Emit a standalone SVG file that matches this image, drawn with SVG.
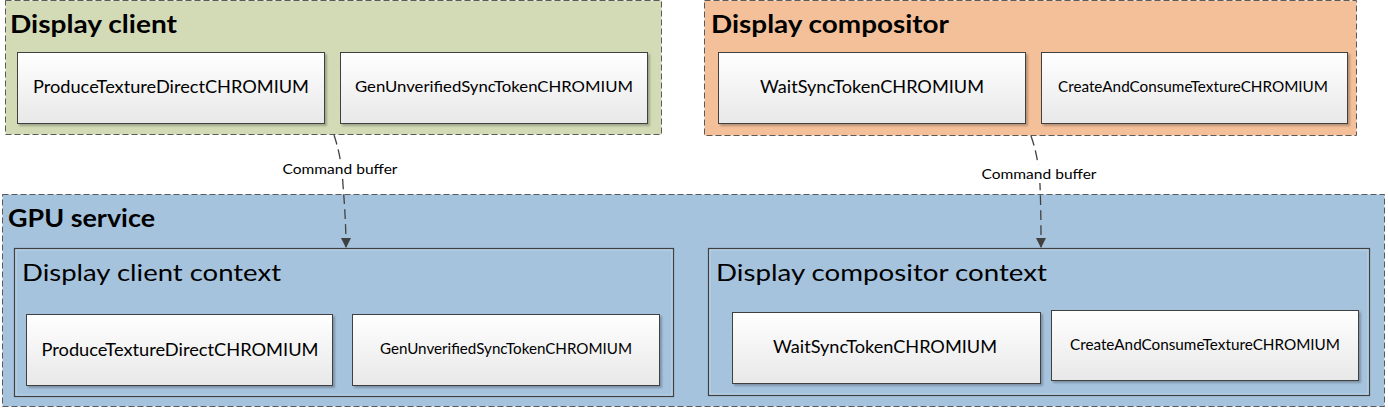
<svg xmlns="http://www.w3.org/2000/svg" width="1388" height="410" viewBox="0 0 1388 410">
<defs>
<linearGradient id="boxg" x1="0" y1="0" x2="0" y2="1">
<stop offset="0" stop-color="#ffffff"/>
<stop offset="1" stop-color="#e8e8e8"/>
</linearGradient>
<filter id="sh" x="-5%" y="-5%" width="112%" height="120%">
<feDropShadow dx="2" dy="2" stdDeviation="1" flood-color="#000" flood-opacity="0.25"/>
</filter>
<marker id="arr" viewBox="0 0 10 10" refX="9" refY="5" markerWidth="10" markerHeight="10" markerUnits="userSpaceOnUse" orient="auto">
<path d="M0,0 L10,5 L0,10 z" fill="#404040"/>
</marker>
</defs>
<style>
.grp{stroke:#5a5a5a;stroke-width:1;stroke-dasharray:6 3}
.ctx{fill:#a6c3dd;stroke:#404040;stroke-width:1.2}
.box{fill:url(#boxg);stroke:#404040;stroke-width:1;filter:url(#sh)}
.t{font-family:Lato,"Open Sans","DejaVu Sans",sans-serif;fill:#000}
.h{font-weight:bold;font-size:24px}
.c{font-size:24px}
.b{font-size:17px}
.s{font-size:15px}
.l{font-size:13px}
.con{fill:none;stroke:#404040;stroke-width:1.3;stroke-dasharray:10 5}
</style>
<rect width="1388" height="410" fill="#fff"/>

<g id="display-client">
<rect class="grp" x="5.5" y="0.5" width="656" height="134" fill="#d3dbb6"/>
<text class="t h" x="10" y="33" textLength="167" lengthAdjust="spacingAndGlyphs">Display client</text>
</g>
<g id="dc-produce">
<rect class="box" x="17.5" y="52.5" width="307" height="71"/>
<text class="t b" x="171" y="93" text-anchor="middle" textLength="276" lengthAdjust="spacingAndGlyphs">ProduceTextureDirectCHROMIUM</text>
</g>
<g id="dc-gen">
<rect class="box" x="340.5" y="52.5" width="307" height="71"/>
<text class="t s" x="494" y="92" text-anchor="middle" textLength="278" lengthAdjust="spacingAndGlyphs">GenUnverifiedSyncTokenCHROMIUM</text>
</g>

<g id="display-compositor">
<rect class="grp" x="704.5" y="0.5" width="652" height="135" fill="#f4c09a"/>
<text class="t h" x="711" y="33" textLength="238" lengthAdjust="spacingAndGlyphs">Display compositor</text>
</g>
<g id="dcomp-wait">
<rect class="box" x="718.5" y="52.5" width="307" height="71"/>
<text class="t b" x="872" y="93" text-anchor="middle" textLength="224" lengthAdjust="spacingAndGlyphs">WaitSyncTokenCHROMIUM</text>
</g>
<g id="dcomp-create">
<rect class="box" x="1041.5" y="52.5" width="306" height="71"/>
<text class="t s" x="1193" y="92" text-anchor="middle" textLength="270" lengthAdjust="spacingAndGlyphs">CreateAndConsumeTextureCHROMIUM</text>
</g>

<g id="gpu-service">
<rect class="grp" x="2.5" y="194.5" width="1382" height="212" fill="#a6c3dd"/>
<text class="t h" x="8" y="227" textLength="147" lengthAdjust="spacingAndGlyphs">GPU service</text>
</g>

<g id="client-context">
<rect class="ctx" x="14.5" y="248.5" width="659" height="148"/>
<rect x="16" y="250" width="656" height="145" fill="none" stroke="#bcd3e8" stroke-width="1"/>
<text class="t c" x="22" y="281" textLength="259" lengthAdjust="spacingAndGlyphs">Display client context</text>
</g>
<g id="cc-produce">
<rect class="box" x="26.5" y="314.5" width="306" height="71"/>
<text class="t b" x="180" y="356" text-anchor="middle" textLength="277" lengthAdjust="spacingAndGlyphs">ProduceTextureDirectCHROMIUM</text>
</g>
<g id="cc-gen">
<rect class="box" x="352.5" y="314.5" width="307" height="71"/>
<text class="t s" x="506" y="354" text-anchor="middle" textLength="252" lengthAdjust="spacingAndGlyphs">GenUnverifiedSyncTokenCHROMIUM</text>
</g>

<g id="compositor-context">
<rect class="ctx" x="708.5" y="248.5" width="661" height="147"/>
<rect x="710" y="250" width="658" height="144" fill="none" stroke="#bcd3e8" stroke-width="1"/>
<text class="t c" x="716" y="281" textLength="331" lengthAdjust="spacingAndGlyphs">Display compositor context</text>
</g>
<g id="cc-wait">
<rect class="box" x="732.5" y="312.5" width="308" height="71"/>
<text class="t b" x="885" y="353" text-anchor="middle" textLength="224" lengthAdjust="spacingAndGlyphs">WaitSyncTokenCHROMIUM</text>
</g>
<g id="cc-create">
<rect class="box" x="1051.5" y="310.5" width="307" height="70"/>
<text class="t s" x="1205" y="350" text-anchor="middle" textLength="270" lengthAdjust="spacingAndGlyphs">CreateAndConsumeTextureCHROMIUM</text>
</g>

<g id="connectors">
<path class="con" d="M334,135 C339,150 342,165 343,185 C345,210 346,230 346,247" marker-end="url(#arr)"/>
<rect x="282" y="160" width="118" height="18" fill="#fff"/>
<text class="t l" x="340" y="174" text-anchor="middle" textLength="115" lengthAdjust="spacingAndGlyphs">Command buffer</text>
<path class="con" d="M1031,136 C1036,150 1039,165 1040,185 C1041,210 1041,230 1041,247" marker-end="url(#arr)"/>
<rect x="980" y="165" width="119" height="18" fill="#fff"/>
<text class="t l" x="1039" y="179" text-anchor="middle" textLength="115" lengthAdjust="spacingAndGlyphs">Command buffer</text>
</g>
</svg>
